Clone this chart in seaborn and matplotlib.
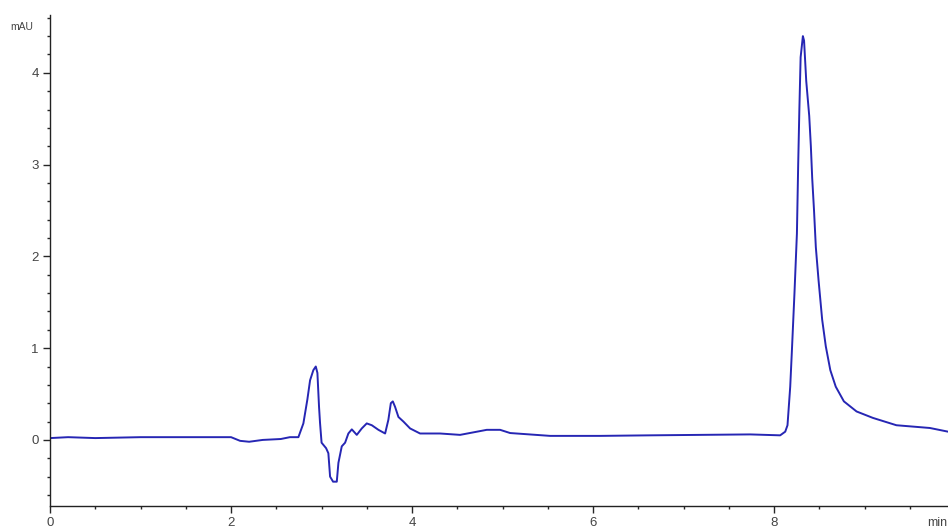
import pandas as pd
import numpy as np
import matplotlib
matplotlib.use('Agg')
import matplotlib.pyplot as plt
from matplotlib.ticker import MultipleLocator
import seaborn as sns

# クロマトグラム(読み取り値)
time_min = [0.00, 0.20, 0.50, 1.00, 1.50, 2.00, 2.10, 2.20, 2.35, 2.55, 2.65, 2.744,
            2.799, 2.843, 2.873, 2.909, 2.936, 2.954, 2.972, 2.983, 3.00, 3.050, 3.075,
            3.094, 3.127, 3.168, 3.186, 3.223, 3.260, 3.296, 3.334, 3.389, 3.444, 3.499,
            3.555, 3.628, 3.702, 3.738, 3.765, 3.787, 3.812, 3.849, 3.904, 3.978, 4.088,
            4.309, 4.530, 4.825, 4.972, 5.083, 5.525, 6.077, 6.630, 7.182, 7.735, 8.066,
            8.122, 8.147, 8.177, 8.195, 8.224, 8.251, 8.265, 8.278, 8.292, 8.317, 8.330,
            8.354, 8.387, 8.405, 8.420, 8.440, 8.460, 8.490, 8.530, 8.570, 8.620, 8.680,
            8.770, 8.910, 9.090, 9.350, 9.720, 9.920]
signal_mAU = [0.02, 0.03, 0.02, 0.03, 0.03, 0.03, -0.01, -0.02, 0.00, 0.01, 0.03, 0.03,
              0.18, 0.44, 0.65, 0.76, 0.80, 0.73, 0.36, 0.185, -0.03, -0.09, -0.145,
              -0.40, -0.455, -0.455, -0.25, -0.07, -0.03, 0.07, 0.115, 0.055, 0.125, 0.18,
              0.16, 0.11, 0.07, 0.22, 0.40, 0.42, 0.36, 0.25, 0.20, 0.125, 0.07,
              0.07, 0.055, 0.11, 0.11, 0.075, 0.044, 0.044, 0.05, 0.055, 0.06, 0.05,
              0.09, 0.16, 0.58, 0.96, 1.60, 2.25, 3.00, 3.60, 4.17, 4.40, 4.35,
              3.91, 3.53, 3.20, 2.85, 2.50, 2.10, 1.74, 1.31, 1.02, 0.76, 0.58,
              0.42, 0.31, 0.24, 0.16, 0.13, 0.09]

df = pd.DataFrame({'min': time_min, 'mAU': signal_mAU})

sns.set_style('ticks')
plt.rcParams['font.family'] = ['Liberation Sans', 'DejaVu Sans']

fig = plt.figure(figsize=(9.48, 5.30), dpi=100)
ax = fig.add_axes([50 / 948, 24 / 530, 898 / 948, 491 / 530])
sns.lineplot(data=df, x='min', y='mAU', ax=ax, color='#2626b4', linewidth=1.4)

ax.set_xlim(0, 9.92)
ax.set_ylim(-0.72, 4.63)
ax.xaxis.set_major_locator(MultipleLocator(2))
ax.xaxis.set_minor_locator(MultipleLocator(0.5))
ax.yaxis.set_major_locator(MultipleLocator(1))
ax.yaxis.set_minor_locator(MultipleLocator(0.2))
ax.tick_params(which='major', length=5, width=1, labelsize=9.5, labelcolor='#444444', pad=3)
ax.tick_params(which='minor', length=2.5, width=1)
ax.set_xlabel('')
ax.set_ylabel('')
for s in ['top', 'right']:
    ax.spines[s].set_visible(False)
for s in ['left', 'bottom']:
    ax.spines[s].set_linewidth(1)
    ax.spines[s].set_color('#222222')

fig.text(10 / 948, 1 - 27 / 530, 'mAU', fontsize=7.5, color='#444444', va='center', ha='left')
fig.text(927 / 948, 1 - 523 / 530, 'min', fontsize=9, color='#444444', va='center', ha='left')

fig.savefig('out.png', dpi=100)
